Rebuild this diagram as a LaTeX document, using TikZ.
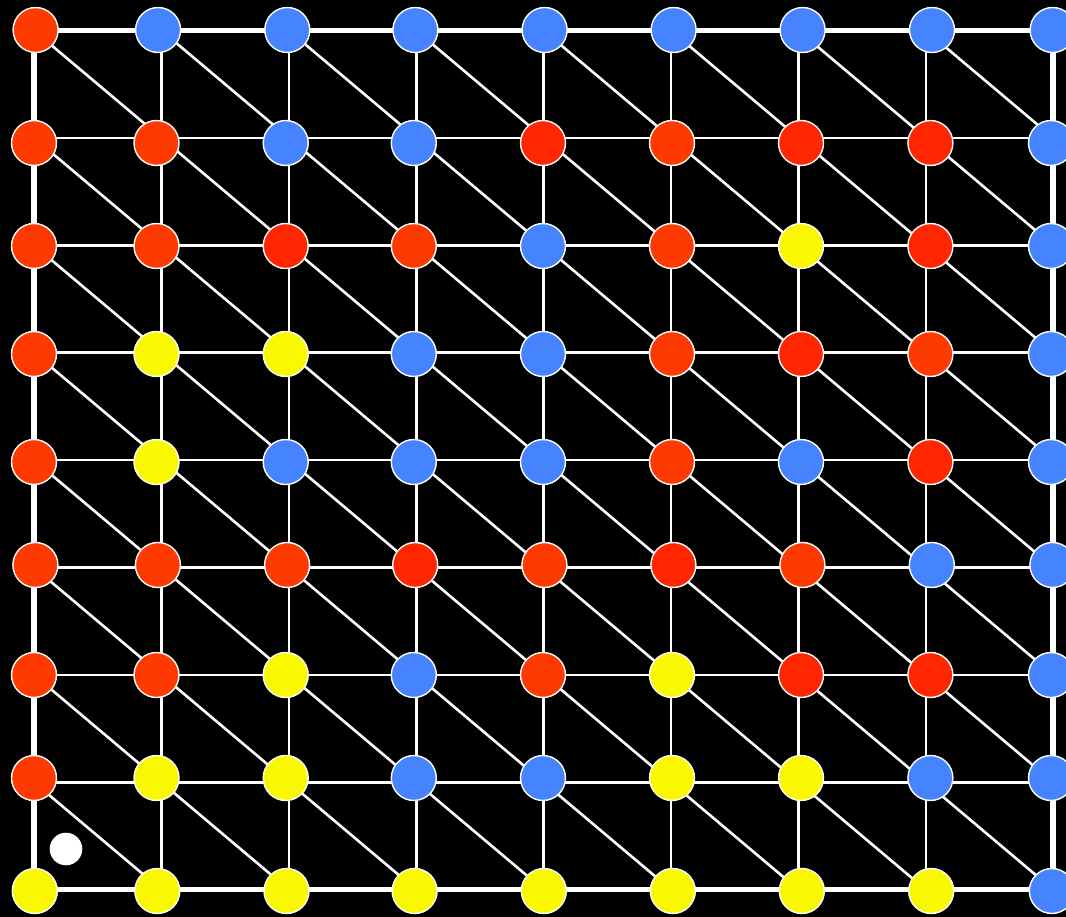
\documentclass[tikz,border=0pt]{standalone}
\definecolor{ro}{HTML}{FF3A00}
\definecolor{rd}{HTML}{FF2600}
\definecolor{bl}{HTML}{4684FF}
\definecolor{ye}{HTML}{FAF800}
\tikzset{
  dot/.style={circle,draw=white,line width=1.4pt,minimum size=45pt,inner sep=0pt,fill=#1},
  thinedge/.style={white,line width=2.6pt},
  thickedge/.style={white,line width=5.5pt,line cap=rect},
}
\begin{document}
\begin{tikzpicture}[x=1pt,y=-1pt]
\fill[black] (0,0) rectangle (1066,917);
\useasboundingbox (0,0) rectangle (1066,917);
% lattice points (lines)
\foreach \r in {0,...,8}{
  \foreach \c in {0,...,8}{
    \coordinate (g-\r-\c) at ({34+127.4*\c},{30.5+107.4*\r});
  }
}
% horizontal edges
\foreach \r in {0,...,8}{
  \foreach \c in {0,...,7}{
    \pgfmathtruncatemacro\cn{\c+1}
    \ifnum\r=0 \def\st{thickedge}\else\ifnum\r=8 \def\st{thickedge}\else\def\st{thinedge}\fi\fi
    \draw[\st] (g-\r-\c) -- (g-\r-\cn);
  }
}
% vertical edges
\foreach \c in {0,...,8}{
  \foreach \r in {0,...,7}{
    \pgfmathtruncatemacro\rn{\r+1}
    \ifnum\c=0 \def\st{thickedge}\else\ifnum\c=8 \def\st{thickedge}\else\def\st{thinedge}\fi\fi
    \draw[\st] (g-\r-\c) -- (g-\rn-\c);
  }
}
% diagonal edges
\foreach \r in {0,...,7}{
  \foreach \c in {0,...,7}{
    \pgfmathtruncatemacro\rn{\r+1}
    \pgfmathtruncatemacro\cn{\c+1}
    \draw[thinedge] (g-\r-\c) -- (g-\rn-\cn);
  }
}
% nodes
\def\xs{{34,156.5,285.7,413.8,543,672,801,930.4,1051}}
\def\ys{{30,143,246,354,462,565,675,778,891}}
\def\sh{{1.6,0,0,0,0,1.4,0,0,0.8}}
\foreach \r/\cols in {
  0/{ro,bl,bl,bl,bl,bl,bl,bl,bl},
  1/{ro,ro,bl,bl,rd,ro,rd,rd,bl},
  2/{ro,ro,rd,ro,bl,ro,ye,rd,bl},
  3/{ro,ye,ye,bl,bl,ro,rd,ro,bl},
  4/{ro,ye,bl,bl,bl,ro,bl,rd,bl},
  5/{ro,ro,ro,rd,ro,rd,ro,bl,bl},
  6/{ro,ro,ye,bl,ro,ye,rd,rd,bl},
  7/{ro,ye,ye,bl,bl,ye,ye,bl,bl},
  8/{ye,ye,ye,ye,ye,ye,ye,ye,bl}}{
  \foreach \col [count=\c from 0] in \cols {
    \pgfmathsetmacro\xx{\xs[\c]+\sh[\r]}
    \pgfmathsetmacro\yy{\ys[\r]}
    \node[dot=\col] (n-\r-\c) at (\xx,\yy) {};
  }
}
\node[circle,fill=white,minimum size=32.6pt,inner sep=0pt] (marker) at (66,849) {};
\end{tikzpicture}
\end{document}
